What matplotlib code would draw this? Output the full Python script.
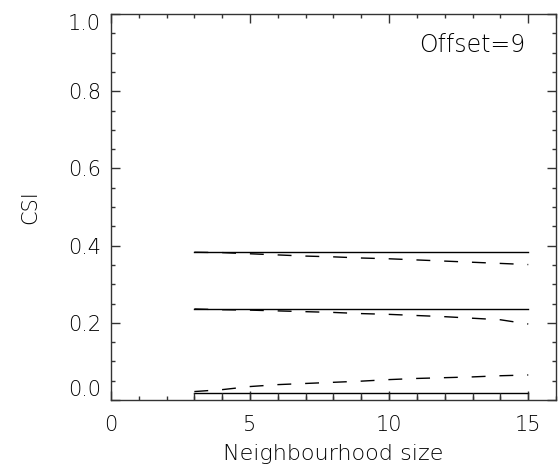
import numpy as np
import matplotlib.pyplot as plt
from matplotlib.ticker import MultipleLocator

# neighbourhood sizes and CSI scores
size = [3, 4, 5, 6, 7, 8, 9, 10, 11, 12, 13, 14, 15]
csi_ref_hi = [0.384] * 13
csi_ref_mid = [0.237] * 13
csi_ref_lo = [0.017] * 13
csi_off_hi = [0.383, 0.382, 0.379, 0.376, 0.373, 0.371, 0.368, 0.366, 0.363, 0.360, 0.357, 0.354, 0.351]
csi_off_mid = [0.236, 0.234, 0.233, 0.231, 0.229, 0.227, 0.224, 0.222, 0.219, 0.216, 0.212, 0.208, 0.197]
csi_off_lo = [0.022, 0.027, 0.035, 0.040, 0.043, 0.046, 0.049, 0.053, 0.056, 0.058, 0.060, 0.063, 0.065]
ytick_labels = ['0.0', '0.2', '0.4', '0.6', '0.8', '1.0']

plt.rcParams['font.family'] = 'DejaVu Sans'
plt.rcParams['font.weight'] = 'light'
plt.rcParams['font.size'] = 15

fig = plt.figure(figsize=(5.6, 4.69), dpi=100)
ax = fig.add_axes([0.198, 0.147, 0.795, 0.823])

for y in (csi_ref_hi, csi_ref_mid, csi_ref_lo):
    ax.plot(size, y, color='black', lw=1.0)
# the low curve is drawn as steps down to the axis
ax.vlines(size, 0, csi_ref_lo, color='#333333', lw=1.0)
for y in (csi_off_hi, csi_off_mid, csi_off_lo):
    ax.plot(size, y, color='black', lw=1.0, dashes=(10, 10))

ax.set_xlim(0, 16)
ax.set_ylim(0, 1.0)
ax.xaxis.set_major_locator(MultipleLocator(5))
ax.xaxis.set_minor_locator(MultipleLocator(1))
ax.yaxis.set_major_locator(MultipleLocator(0.2))
ax.yaxis.set_minor_locator(MultipleLocator(0.05))
ax.set_xticks([0, 5, 10, 15])
ax.set_yticks(np.arange(0, 1.01, 0.2))
ax.set_yticklabels(ytick_labels)
ax.tick_params(which='both', direction='in', top=True, right=True, width=1.0,
               color='#333333', labelcolor='black')
ax.tick_params(which='major', length=6.5)
ax.tick_params(which='minor', length=3.2)
ax.tick_params(axis='x', which='major', pad=11)
ax.tick_params(axis='y', which='major', pad=7)
# keep end labels inside the axis range
ylabs = ax.get_yticklabels()
ylabs[0].set_va('bottom')
ylabs[-1].set_va('top')
for s in ax.spines.values():
    s.set_linewidth(1.0)
    s.set_color('#333333')

ax.set_xlabel('Neighbourhood size', fontsize=16, fontweight='light', labelpad=6)
ax.set_ylabel('CSI', fontsize=15, fontweight='light', labelpad=20)
ax.text(0.93, 0.92, 'Offset=9', transform=ax.transAxes, ha='right', va='center',
        fontsize=17)

plt.savefig('out.png', dpi=100)
